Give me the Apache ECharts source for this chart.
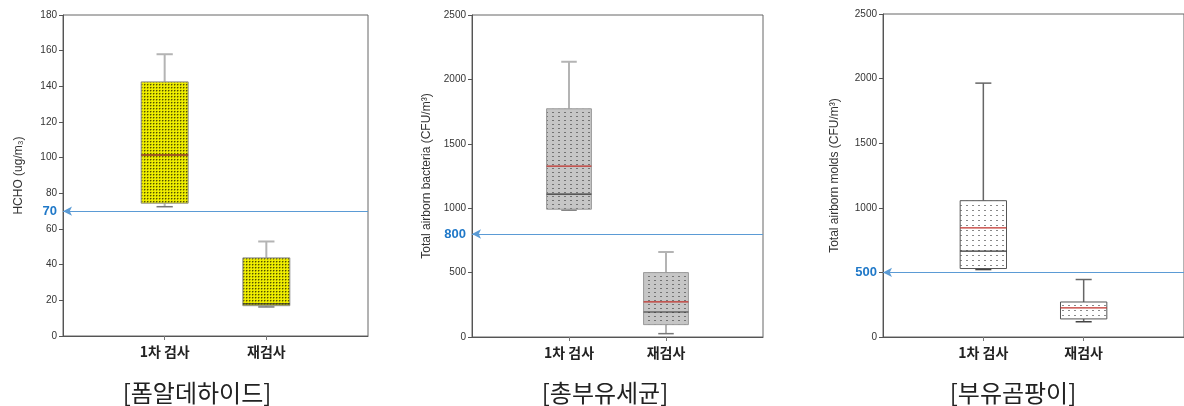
<!DOCTYPE html>
<html>
<head>
<meta charset="utf-8">
<script src="https://cdn.jsdelivr.net/npm/echarts@6/dist/echarts.min.js"></script>
<style>
html,body{margin:0;padding:0;background:#fff;}
#c{width:1184px;height:406px;}
</style>
</head>
<body>
<div id="c"></div>
<script>
// ---- data ----
const categories = ['1차 검사', '재검사'];
const panelTitles = ['[폼알데하이드]', '[총부유세균]', '[부유곰팡이]'];
const yNames = ['HCHO (ug/m\u2083)', 'Total airborn bacteria (CFU/m\u00b3)', 'Total airborn molds (CFU/m\u00b3)'];
const yMax = [180, 2500, 2500];
const yInterval = [20, 500, 500];
const limits = [70, 800, 500];

// per-panel box statistics for [1차 검사, 재검사]
const hchoMin    = [72.5, 16.3];
const hchoQ1     = [74.5, 17];
const hchoMedian = [101.5, 18];
const hchoQ3     = [142.5, 43.8];
const hchoMax    = [158, 53];
const hchoMean   = [101.5, null];

const bactMin    = [985, 26];
const bactQ1     = [992, 96];
const bactMedian = [1109, 194];
const bactQ3     = [1772, 500];
const bactMax    = [2137, 660];
const bactMean   = [1326, 272];

const moldMin    = [522, 118];
const moldQ1     = [530, 140];
const moldMedian = [665, null];
const moldQ3     = [1055, 271];
const moldMax    = [1965, 445];
const moldMean   = [845, 225];

const panels = [
  [hchoMin, hchoQ1, hchoMedian, hchoQ3, hchoMax, hchoMean],
  [bactMin, bactQ1, bactMedian, bactQ3, bactMax, bactMean],
  [moldMin, moldQ1, moldMedian, moldQ3, moldMax, moldMean]
];

// ---- patterns ----
function makePattern(w, h, bg, dots) {
  const c = document.createElement('canvas');
  c.width = w; c.height = h;
  const g = c.getContext('2d');
  g.fillStyle = bg; g.fillRect(0, 0, w, h);
  dots.forEach(d => { g.fillStyle = d[4]; g.fillRect(d[0], d[1], d[2], d[3]); });
  return { image: c, repeat: 'repeat' };
}
const fills = [
  makePattern(3, 3, '#e8e600', [[1, 0, 1, 1, '#a9a700'], [0, 1, 1, 1, '#a9a700'], [0, 0, 1, 1, '#525000'], [2, 2, 1, 1, '#f6f400']]),
  makePattern(6, 4, '#c6c6c6', [[0, 0, 2, 1, '#737373']]),
  makePattern(6, 5, '#ffffff', [[0, 0, 2, 1, '#8a8a8a']])
];
const styles = [
  { border: '#8a8a8a', whisker: '#b4b4b4', ww: 2 },
  { border: '#9a9a9a', whisker: '#b4b4b4', ww: 2 },
  { border: '#555555', whisker: '#666666', ww: 1.5 }
];

const grids = [
  { left: 63, top: 15, width: 305, height: 321 },
  { left: 472, top: 15, width: 291, height: 322 },
  { left: 883, top: 14, width: 302, height: 323 }
];
const titleX = [197, 605, 1013];
const nameGaps = [38, 39, 42];

const font = "'Liberation Sans', Arial, sans-serif";
const kfont = "'Noto Sans CJK KR', sans-serif";

const option = {
  animation: false,
  grid: grids.map(g => Object.assign({ show: true, borderColor: '#666', borderWidth: 1, backgroundColor: 'transparent' }, g)),
  xAxis: grids.map((g, i) => ({
    gridIndex: i, type: 'value', min: 0, max: 3, interval: 1,
    axisLine: { lineStyle: { color: '#555', width: 1 } },
    axisTick: { show: true, customValues: [1, 2], length: 4, lineStyle: { color: '#777' } },
    axisLabel: { customValues: [1, 2], formatter: v => categories[v - 1] || '', fontFamily: kfont, fontWeight: 'bold', fontSize: 14, color: '#222', margin: 9 },
    splitLine: { show: false }
  })),
  yAxis: grids.map((g, i) => ({
    gridIndex: i, type: 'value', min: 0, max: yMax[i], interval: yInterval[i],
    name: yNames[i], nameLocation: 'middle', nameGap: nameGaps[i],
    nameTextStyle: { fontFamily: font, fontSize: 12, color: '#333' },
    axisLine: { show: true, lineStyle: { color: '#555', width: 1 } },
    axisTick: { show: true, length: 4, lineStyle: { color: '#555' } },
    axisLabel: { fontFamily: font, fontSize: 10, color: '#333', margin: 6, formatter: v => (v === limits[i] ? '' : String(v)) },
    splitLine: { show: false }
  })),
  graphic: panelTitles.map((t, i) => ({
    type: 'text', x: titleX[i], y: 393,
    style: { text: t, textAlign: 'center', textVerticalAlign: 'middle', font: '24px ' + kfont, fill: '#222' }
  })),
  series: panels.map((p, i) => {
    const data = categories.map((c, k) => [k + 1, p[0][k], p[1][k], p[2][k], p[3][k], p[4][k], p[5][k]]);
    const st = styles[i];
    return {
      type: 'custom', xAxisIndex: i, yAxisIndex: i,
      data: data,
      encode: { x: 0, y: [1, 2, 3, 4, 5] },
      renderItem: function (params, api) {
        const x = api.value(0);
        const bw = api.size([0.462, 0])[0];
        const cw = api.size([0.16, 0])[0];
        const cx = api.coord([x, 0])[0];
        const y = v => api.coord([x, v])[1];
        const yMin = y(api.value(1)), yQ1 = y(api.value(2)), yQ3 = y(api.value(4)), yMx = y(api.value(5));
        const med = api.value(3), mean = api.value(6);
        const wl = { stroke: st.whisker, lineWidth: st.ww };
        const ch = [
          { type: 'line', shape: { x1: cx, y1: yQ3, x2: cx, y2: yMx }, style: wl },
          { type: 'line', shape: { x1: cx - cw / 2, y1: yMx, x2: cx + cw / 2, y2: yMx }, style: wl },
          { type: 'line', shape: { x1: cx, y1: yQ1, x2: cx, y2: yMin }, style: wl },
          { type: 'line', shape: { x1: cx - cw / 2, y1: yMin, x2: cx + cw / 2, y2: yMin }, style: { stroke: i === 2 ? '#444' : '#777', lineWidth: 1.5 } },
          { type: 'rect', shape: { x: cx - bw / 2, y: yQ3, width: bw, height: yQ1 - yQ3 }, style: { fill: fills[i], stroke: st.border, lineWidth: 1 } }
        ];
        if (med != null && !isNaN(med)) {
          ch.push({ type: 'line', shape: { x1: cx - bw / 2, y1: y(med), x2: cx + bw / 2, y2: y(med) }, style: { stroke: '#333', lineWidth: 1.2 } });
        }
        if (mean != null && !isNaN(mean)) {
          ch.push({ type: 'line', shape: { x1: cx - bw / 2, y1: y(mean), x2: cx + bw / 2, y2: y(mean) }, style: { stroke: '#c0302a', lineWidth: 1.2 } });
        }
        return { type: 'group', children: ch };
      },
      markLine: {
        silent: true, animation: false,
        symbol: ['arrow', 'none'], symbolSize: [7, 9],
        lineStyle: { color: '#5b9bd5', width: 1.2, type: 'solid' },
        label: { show: true, position: 'start', formatter: String(limits[i]), color: '#1f78c8', fontWeight: 'bold', fontSize: 13, fontFamily: font, distance: 6 },
        data: [{ yAxis: limits[i] }]
      }
    };
  })
};

const chart = echarts.init(document.getElementById('c'), null, { renderer: 'canvas' });
chart.setOption(option);
</script>
</body>
</html>
